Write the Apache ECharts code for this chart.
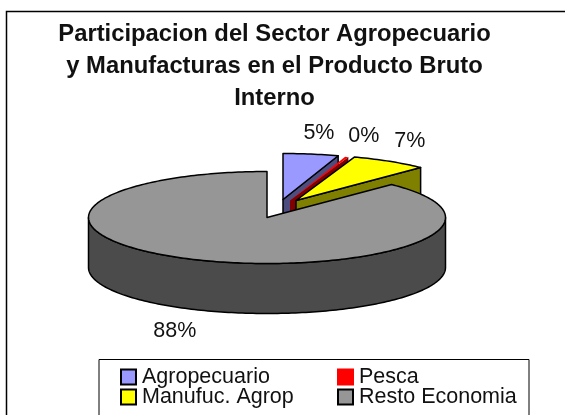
<!DOCTYPE html>
<html><head><meta charset="utf-8">
<style>html,body{margin:0;padding:0;background:#fff}#c{width:565px;height:415px}</style>
<script src="https://cdn.jsdelivr.net/npm/echarts@6/dist/echarts.min.js"></script>
</head><body><div id="c"></div>
<script>
const categories = ['Agropecuario', 'Pesca', 'Manufuc. Agrop', 'Resto Economia'];
const values = [5, 0.3, 7, 87.7];
const titleLines = ['Participacion del Sector Agropecuario', 'y Manufacturas en el Producto Bruto', 'Interno'];

const topColors = ['#9999FF', '#FF0000', '#FFFF00', '#969696'];
const wallColors = ['#4D4D80', '#800000', '#808000', '#4B4B4B'];
const strokeColors = ['#000', null, '#000', '#000'];
const explodeX = [16, 23, 29, 0];
const explodeY = [-18, -17, -17, 0];
const labelDX = [8, 17, 20, -25];
const labelDY = [-21, -21, -20, 21];

const cx = 267, cy = 217.5, rx = 178.5, ry = 46, depth = 50;
const total = values.reduce((a, b) => a + b, 0);

function pt(ox, oy, a, dz) { return [ox + rx * Math.sin(a), oy - ry * Math.cos(a) + (dz || 0)]; }
function arc(ox, oy, a0, a1, dz) {
  const n = Math.max(2, Math.ceil((a1 - a0) / 0.02)), out = [];
  for (let i = 0; i <= n; i++) out.push(pt(ox, oy, a0 + (a1 - a0) * i / n, dz));
  return out;
}
function renderSlice(idx) {
  return function () {
    let before = 0;
    for (let i = 0; i < idx; i++) before += values[i];
    const a0 = before / total * 2 * Math.PI, a1 = (before + values[idx]) / total * 2 * Math.PI;
    const ox = cx + explodeX[idx], oy = cy + explodeY[idx];
    const st = { stroke: strokeColors[idx] || 'none', lineWidth: 1.5, lineJoin: 'round' };
    const wall = Object.assign({ fill: wallColors[idx] }, st);
    const top = Object.assign({ fill: topColors[idx] }, st);
    const kids = [];
    if (idx === 3) {
      kids.push({ type: 'polygon', shape: { points: arc(ox, oy, Math.PI / 2, 3 * Math.PI / 2, 0).concat(arc(ox, oy, Math.PI / 2, 3 * Math.PI / 2, depth).reverse()) }, style: wall });
    } else {
      const e = pt(ox, oy, a1);
      kids.push({ type: 'polygon', shape: { points: [[ox, oy], e, [e[0], e[1] + depth], [ox, oy + depth]] }, style: wall });
    }
    kids.push({ type: 'polygon', shape: { points: [[ox, oy]].concat(arc(ox, oy, a0, a1)) }, style: top });
    const mid = (a0 + a1) / 2, m = pt(ox, oy, mid, idx === 3 ? depth : 0);
    kids.push({
      type: 'text',
      style: {
        x: m[0] + labelDX[idx], y: m[1] + labelDY[idx],
        text: Math.round(values[idx] / total * 100) + '%',
        align: 'center', verticalAlign: 'middle',
        font: '21.5px "Liberation Sans"', fill: '#111'
      }
    });
    return { type: 'group', children: kids };
  };
}
const legendBase = {
  orient: 'vertical', itemWidth: 15, itemHeight: 15, itemGap: -8, padding: 0,
  textStyle: { fontFamily: 'Liberation Sans', fontSize: 21.5, lineHeight: 18, color: '#111', padding: [0, 0, 10, 1] },
  icon: 'rect', selectedMode: false
};
const chart = echarts.init(document.getElementById('c'));
chart.setOption({
  backgroundColor: '#fff',
  animation: false,
  title: {
    text: titleLines.join('\n'), left: 269.5, top: 13, textAlign: 'center',
    textStyle: { fontFamily: 'Liberation Sans', fontWeight: 'bold', fontSize: 23.8, lineHeight: 32, color: '#111' }
  },
  legend: [
    Object.assign({}, legendBase, { left: 120, top: 363, data: [categories[0], categories[2]] }),
    Object.assign({}, legendBase, { left: 337, top: 363, data: [categories[1], categories[3]] })
  ],
  graphic: [
    { type: 'rect', z: -1, shape: { x: 6.5, y: 11.5, width: 600, height: 600 }, style: { fill: '#fff', stroke: '#000', lineWidth: 1.5 } },
    { type: 'rect', z: -1, shape: { x: 99, y: 359.5, width: 430, height: 100 }, style: { fill: '#fff', stroke: '#000', lineWidth: 1 } }
  ],
  series: categories.map((name, i) => ({
    type: 'custom', name, coordinateSystem: 'none', z: 2 + i,
    itemStyle: { color: topColors[i], borderColor: strokeColors[i] || topColors[i], borderWidth: 1.5 },
    data: [values[i]],
    renderItem: renderSlice(i)
  }))
});
</script></body></html>
